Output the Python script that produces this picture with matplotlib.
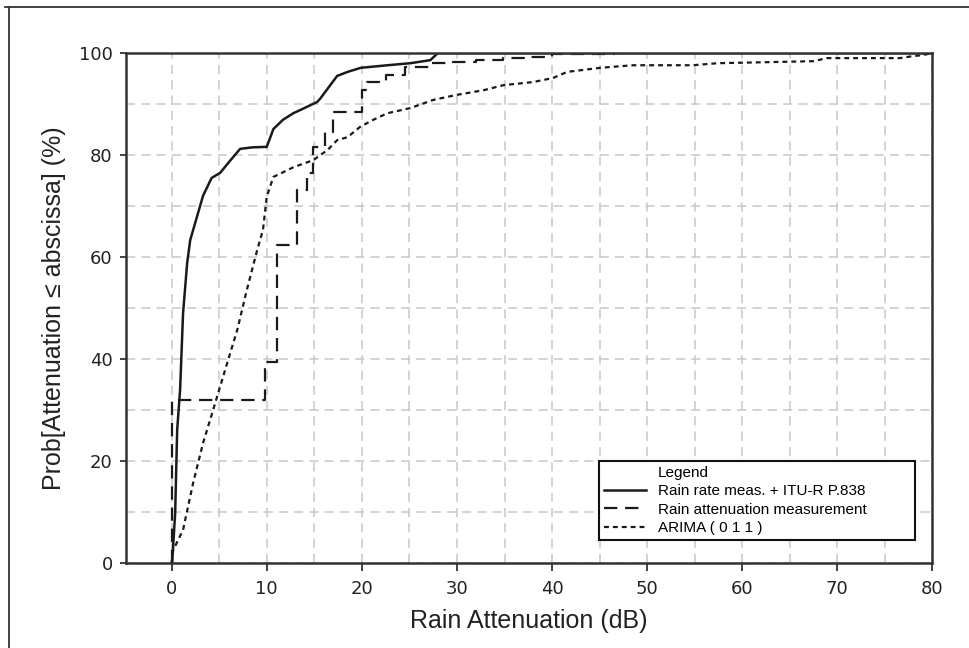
import matplotlib
matplotlib.use("Agg")
import matplotlib.pyplot as plt
from matplotlib.lines import Line2D

# Rain rate meas. + ITU-R P.838
rr_att = [0.0, 0.05, 0.37, 0.58, 0.89, 1.2, 1.63, 1.95, 2.26, 3.3, 4.2, 5.1, 6.2, 7.2, 8.5,
          10.0, 10.7, 11.7, 12.8, 13.5, 15.3, 15.6, 17.4, 18.5, 19.9, 22.7, 25.1, 27.2, 28.0, 80.0]
rr_prob = [0.0, 0.0, 9.8, 26.1, 34.0, 49.0, 58.8, 63.3, 65.3, 72.0, 75.5, 76.5, 79.0, 81.2, 81.5,
           81.6, 85.1, 86.9, 88.2, 88.8, 90.4, 91.0, 95.5, 96.3, 97.1, 97.6, 98.0, 98.6, 100.0, 100.0]

# Rain attenuation measurement (step curve)
meas_att = [0.0, 0.0, 9.8, 11.1, 13.2, 14.2, 14.9, 16.1, 17.0, 20.0, 20.5, 22.5, 24.5,
            27.3, 29.5, 32.0, 34.8, 37.6, 40.0, 46.5, 47.0]
meas_prob = [0.0, 32.0, 39.5, 62.3, 73.1, 76.4, 81.6, 84.5, 88.4, 92.7, 94.3, 95.7, 97.3,
             98.0, 98.3, 98.6, 99.0, 99.3, 99.9, 100.0, 100.0]

# ARIMA ( 0 1 1 )
arima_att = [0.0, 0.16, 1.2, 2.26, 3.3, 4.36, 5.4, 6.9, 7.9, 9.0, 9.6, 10.0, 10.7, 12.8, 14.9,
             16.4, 17.4, 18.5, 19.8, 21.2, 22.7, 25.1, 27.5, 30.0, 32.8, 34.9, 38.0, 40.1,
             41.6, 45.1, 48.5, 54.8, 57.4, 62.6, 67.5, 68.9, 76.6, 78.0, 79.0, 80.0]
arima_prob = [0.0, 2.5, 6.5, 15.7, 23.5, 30.0, 36.5, 45.7, 53.5, 61.4, 65.3, 71.8, 75.7, 77.6,
              79.0, 81.0, 82.9, 83.5, 85.5, 86.9, 88.2, 89.2, 90.8, 91.8, 92.7, 93.7, 94.3,
              95.1, 96.3, 97.1, 97.6, 97.6, 98.0, 98.2, 98.4, 99.0, 99.0, 99.4, 99.6, 100.0]

x_ticks = list(range(0, 81, 10))
y_ticks = list(range(0, 101, 20))

fig = plt.figure(figsize=(9.7, 6.48), dpi=100)
ax = fig.add_axes([0.1299, 0.1312, 0.8314, 0.7870])

ink = "#1a1a1a"
ax.plot([], [], color="none", label="Legend")
ax.plot(rr_att, rr_prob, color=ink, lw=1.8, label="Rain rate meas. + ITU-R P.838")
ax.plot(meas_att, meas_prob, color=ink, lw=1.6, linestyle=(0, (6, 3.5)),
        drawstyle="steps-post", label="Rain attenuation measurement")
ax.plot(arima_att, arima_prob, color=ink, lw=1.6, linestyle=(0, (2.2, 1.8)),
        label="ARIMA ( 0 1 1 )")

ax.set_xlim(-4.8, 80)
ax.set_ylim(0, 100)
ax.set_xticks(x_ticks)
ax.set_xticks(range(0, 81, 5), minor=True)
ax.set_yticks(y_ticks)
ax.set_yticks(range(0, 101, 10), minor=True)
ax.grid(which="both", color="#c8c8c8", linestyle=(0, (6, 4)), lw=1.1)
ax.set_axisbelow(True)

ax.tick_params(axis="x", which="major", direction="out", length=6, width=1.3,
               color="#333333", labelsize=13, pad=6.5)
ax.tick_params(axis="y", which="major", direction="out", length=4.5, width=1.3,
               color="#333333", labelsize=13, pad=5)
ax.tick_params(which="minor", length=0)
for lab in ax.get_xticklabels() + ax.get_yticklabels():
    lab.set_family("DejaVu Sans")
    lab.set_color("#222222")

for sp in ax.spines.values():
    sp.set_color("#333333")
    sp.set_linewidth(1.8)

ax.set_xlabel("Rain Attenuation (dB)", fontsize=18, family="Liberation Sans",
              color="#222222", labelpad=8)
ax.set_ylabel("Prob[Attenuation \u2264 abscissa] (%)", fontsize=18,
              family="Liberation Sans", color="#222222", labelpad=9)

leg = ax.legend(loc="lower left", bbox_to_anchor=(0.5865, 0.0451, 0.3918, 0.15),
                mode="expand", borderaxespad=0, fancybox=False, framealpha=1,
                edgecolor="#111111", handlelength=2.75, handletextpad=0.8,
                labelspacing=0.3, borderpad=0.3,
                prop={"family": "Liberation Sans", "size": 11})
leg.get_frame().set_linewidth(1.5)

# frame lines around the figure (left and top only, rest is cropped)
fig.add_artist(Line2D([9 / 970, 9 / 970], [0, 1 - 7 / 648], color="#333333", lw=1.3))
fig.add_artist(Line2D([5 / 970, 1], [1 - 7 / 648, 1 - 7 / 648], color="#333333", lw=1.3))

fig.savefig("out.png", dpi=100)
